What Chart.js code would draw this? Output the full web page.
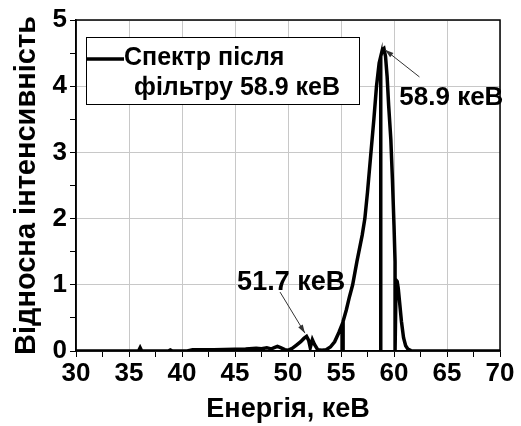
<!DOCTYPE html>
<html lang="uk">
  <head>
    <meta charset="UTF-8" />
    <title>Спектр після фільтру</title>
    <script src="https://cdn.jsdelivr.net/npm/chart.js"></script>
    <style>
      html, body { margin: 0; padding: 0; background: #fff; }
      #wrap { width: 521px; height: 426px; }
    </style>
  </head>
  <body>
    <div id="wrap"><canvas id="spectrumChart"></canvas></div>
    <script>
      // energy, keV and relative intensity
      const energy = [
        30, 35, 35.9, 36.05, 36.2, 37, 38.7, 38.9, 39.1, 40.5, 41, 43, 45, 46,
        47, 47.5, 48, 48.4, 48.7, 49, 49.3, 49.7, 50, 50.4, 50.8, 51.2, 51.5,
        51.75, 51.95, 52.1, 52.3, 52.5, 52.8, 53.2, 53.6, 54, 54.4, 54.8, 55.1,
        55.1, 55.2, 55.2, 55.5, 55.8, 56.1, 56.5, 57, 57.25, 57.5, 57.8, 58.1,
        58.35, 58.6, 58.75, 58.75, 58.75, 58.9, 59.05, 59.2, 59.35, 59.5, 59.7,
        59.85, 60.0, 60.1, 60.1, 60.2, 60.3, 60.4, 60.55, 60.7, 60.9, 61.1,
        61.3, 61.6, 62, 70
      ];
      const intensity = [
        0, 0, 0, 0.05, 0, 0, 0, 0.015, 0, 0, 0.02, 0.02, 0.025, 0.03, 0.04,
        0.035, 0.05, 0.03, 0.05, 0.07, 0.05, 0.02, 0.01, 0.04, 0.09, 0.14,
        0.19, 0.22, 0.16, 0.05, 0.17, 0.1, 0.02, 0.01, 0.02, 0.06, 0.14, 0.28,
        0.4, 0, 0, 0.45, 0.62, 0.82, 1.0, 1.35, 1.75, 2.0, 2.4, 2.95, 3.5, 4.0,
        4.35, 4.45, 0, 4.45, 4.55, 4.57, 4.45, 4.15, 3.7, 3.2, 2.6, 1.9, 1.35,
        0, 1.07, 1.05, 0.95, 0.7, 0.45, 0.2, 0.08, 0.03, 0.005, 0, 0
      ];

      const xTicks = [30, 35, 40, 45, 50, 55, 60, 65, 70];
      const yTicks = [0, 1, 2, 3, 4, 5];

      const seriesLabel = ["Спектр після", "фільтру 58.9 кеВ"];
      const peakNotes = [
        { text: "58.9 кеВ", size: 26, at: [60.5, 3.82], from: [62.4, 4.14], to: [59.15, 4.55] },
        { text: "51.7 кеВ", size: 27, at: [45.2, 1.04], from: [49.25, 0.89], to: [51.6, 0.27] }
      ];

      const points = energy.map((e, i) => ({ x: e, y: intensity[i] }));
      const isMajor = (v, list) => list.some((t) => Math.abs(t - v) < 1e-6);
      const boldFont = "Liberation Sans, Arial, sans-serif";

      // frame, legend box and peak notes
      const extras = {
        id: "extras",
        afterDatasetsDraw(chart) {
          const { ctx, chartArea: a, scales } = chart;
          ctx.save();
          ctx.strokeStyle = "#000";
          ctx.lineWidth = 1.5;
          ctx.strokeRect(a.left, a.top, a.right - a.left, a.bottom - a.top);

          // legend
          ctx.fillStyle = "#fff";
          ctx.fillRect(86, 37, 273, 67);
          ctx.lineWidth = 1;
          ctx.strokeStyle = "#000";
          ctx.strokeRect(86.5, 37.5, 273, 67);
          ctx.lineWidth = 3.5;
          ctx.beginPath();
          ctx.moveTo(87, 59);
          ctx.lineTo(124, 59);
          ctx.stroke();
          ctx.fillStyle = "#000";
          ctx.font = "bold 25px " + boldFont;
          ctx.textBaseline = "middle";
          ctx.textAlign = "left";
          ctx.fillText(seriesLabel[0], 124, 58);
          ctx.fillText(seriesLabel[1], 134, 88);

          // peak notes
          const xs = scales.x, ys = scales.y;
          peakNotes.forEach((n) => {
            const x1 = xs.getPixelForValue(n.from[0]), y1 = ys.getPixelForValue(n.from[1]);
            const x2 = xs.getPixelForValue(n.to[0]), y2 = ys.getPixelForValue(n.to[1]);
            ctx.strokeStyle = "#333";
            ctx.fillStyle = "#333";
            ctx.lineWidth = 1;
            ctx.beginPath();
            ctx.moveTo(x1, y1);
            ctx.lineTo(x2, y2);
            ctx.stroke();
            const ang = Math.atan2(y2 - y1, x2 - x1);
            ctx.beginPath();
            ctx.moveTo(x2, y2);
            ctx.lineTo(x2 - 9 * Math.cos(ang - 0.3), y2 - 9 * Math.sin(ang - 0.3));
            ctx.lineTo(x2 - 9 * Math.cos(ang + 0.3), y2 - 9 * Math.sin(ang + 0.3));
            ctx.closePath();
            ctx.fill();
            ctx.fillStyle = "#000";
            ctx.font = "bold " + n.size + "px " + boldFont;
            ctx.fillText(n.text, xs.getPixelForValue(n.at[0]), ys.getPixelForValue(n.at[1]));
          });
          ctx.restore();
        }
      };

      new Chart(document.getElementById("spectrumChart"), {
        type: "line",
        data: {
          datasets: [
            {
              label: seriesLabel.join(" "),
              data: points,
              borderColor: "#000",
              borderWidth: 3.5,
              pointRadius: 0,
              tension: 0,
              fill: false
            }
          ]
        },
        options: {
          responsive: true,
          maintainAspectRatio: false,
          animation: false,
          layout: { padding: { top: 20, right: 21, left: 0, bottom: 0 } },
          plugins: { legend: { display: false }, tooltip: { enabled: false } },
          scales: {
            x: {
              type: "linear",
              min: 30,
              max: 70,
              afterFit: (s) => { s.height = 75; },
              ticks: {
                stepSize: 2.5,
                autoSkip: false,
                maxRotation: 0,
                color: "#000",
                padding: 1,
                font: { family: boldFont, size: 26, weight: "bold" },
                callback: (v) => (isMajor(v, xTicks) ? v : "")
              },
              grid: {
                color: (c) => (isMajor(c.tick.value, xTicks) ? "#c8c8c8" : "rgba(0,0,0,0)"),
                tickColor: "#000",
                tickLength: 6,
                lineWidth: 1
              },
              border: { color: "#000", width: 1.5 },
              title: {
                display: true,
                text: "Енергія, кеВ",
                color: "#000",
                padding: { top: 0, bottom: 0 },
                font: { family: boldFont, size: 27, weight: "bold" }
              }
            },
            y: {
              min: 0,
              max: 5,
              afterFit: (s) => { s.width = 76; },
              ticks: {
                stepSize: 0.5,
                autoSkip: false,
                color: "#000",
                padding: 3,
                font: { family: boldFont, size: 26, weight: "bold" },
                callback: (v) => (isMajor(v, yTicks) ? v : "")
              },
              grid: {
                color: (c) => (isMajor(c.tick.value, yTicks) ? "#c8c8c8" : "rgba(0,0,0,0)"),
                tickColor: "#000",
                tickLength: 6,
                lineWidth: 1
              },
              border: { color: "#000", width: 1.5 },
              title: {
                display: true,
                text: "Відносна інтенсивність",
                color: "#000",
                padding: { top: 10, bottom: 0 },
                font: { family: boldFont, size: 29, weight: "bold" }
              }
            }
          }
        },
        plugins: [extras]
      });
    </script>
  </body>
</html>
